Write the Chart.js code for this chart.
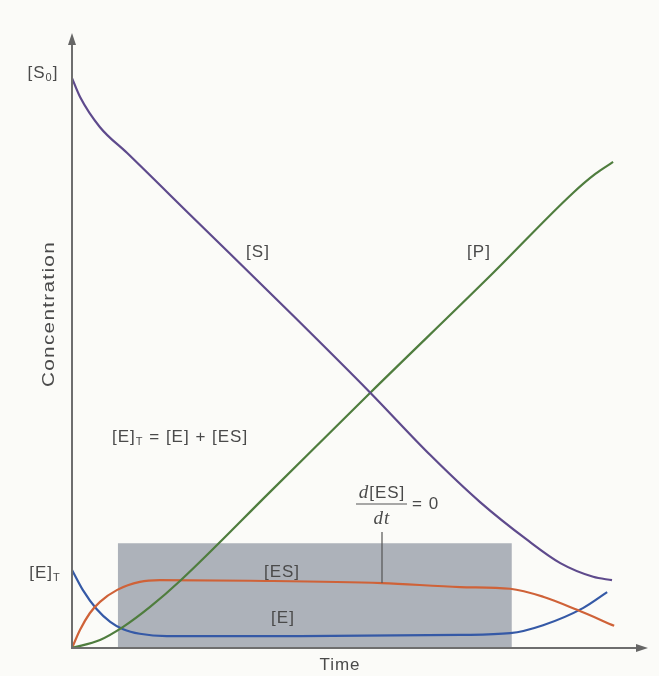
<!DOCTYPE html>
<html lang="en">
<head>
<meta charset="UTF-8">
<title>Enzyme kinetics</title>
<script src="https://cdn.jsdelivr.net/npm/chart.js"></script>
<style>
  body { margin: 0; background: #fbfbf8; }
  canvas { display: block; }
</style>
</head>
<body>
<canvas id="myChart" width="659" height="676"></canvas>
<script>
// values; time and concentration in arbitrary units
const sTime  = [0, 1.5, 5.2, 10.2, 22.5, 41.1, 55.4, 66.5, 75.8, 84.5, 90.7, 96.8, 100.3];
const sConc  = [100, 96.7, 91.4, 86.9, 75.5, 58.3, 44.8, 33.9, 25.6, 19.0, 14.9, 12.5, 11.9];
const pTime  = [0, 5.2, 9.5, 14.5, 20.1, 36.8, 55.4, 78.2, 93.1, 97.2, 100.5];
const pConc  = [0, 1.4, 3.7, 7.2, 11.8, 27.4, 44.8, 65.8, 79.9, 83.2, 85.3];
const esTime = [0, 1.5, 3.3, 5.2, 8.4, 12.6, 16.3, 33.1, 57.6, 72.1, 81.4, 87.5, 93.8, 100.7];
const esConc = [0, 3.2, 6.1, 8.1, 10.2, 11.6, 11.9, 11.8, 11.4, 10.7, 10.4, 9.0, 6.7, 3.9];
const eTime  = [0, 2.0, 4.6, 7.1, 9.5, 12.6, 17.6, 42.4, 72.1, 81.4, 87.5, 94.9, 99.4];
const eConc  = [13.7, 10.2, 6.8, 4.6, 3.3, 2.5, 2.1, 2.1, 2.3, 2.6, 4.0, 7.0, 9.8];
// steady state window (grey box)
const ssTime  = [8.5, 81.7];
const ssLevel = [18.4, 18.4];

function pts(xs, ys) {
    return xs.map((x, i) => ({ x: x, y: ys[i] }));
}

const TEXT = '#4a4a4a';
const SANS = '"Liberation Sans", Arial, sans-serif';
const SERIF = '"Liberation Serif", "Times New Roman", serif';

// draws a run of [text, font, dy] pieces, centred on x unless align is 'left'
function rich(ctx, parts, x, y, align) {
    let w = 0;
    parts.forEach(p => { ctx.font = p[1]; w += ctx.measureText(p[0]).width; });
    let cx = align === 'left' ? x : x - w / 2;
    parts.forEach(p => {
        ctx.font = p[1];
        ctx.fillText(p[0], cx, y + (p[2] || 0));
        cx += ctx.measureText(p[0]).width;
    });
}

const labels = {
    id: 'labels',
    afterDraw(chart) {
        const ctx = chart.ctx;
        const a = chart.chartArea;
        const main = '17px ' + SANS;
        const sub = '11px ' + SANS;
        const it = 'italic 19px ' + SERIF;
        ctx.save();
        ctx.fillStyle = '#666';
        // arrow heads
        ctx.beginPath();
        ctx.moveTo(a.left, a.top - 7);
        ctx.lineTo(a.left - 4, a.top + 5);
        ctx.lineTo(a.left + 4, a.top + 5);
        ctx.closePath();
        ctx.fill();
        ctx.beginPath();
        ctx.moveTo(a.right + 8, a.bottom);
        ctx.lineTo(a.right - 4, a.bottom - 4);
        ctx.lineTo(a.right - 4, a.bottom + 4);
        ctx.closePath();
        ctx.fill();

        ctx.fillStyle = TEXT;
        ctx.textBaseline = 'middle';
        ctx.textAlign = 'left';
        if ('letterSpacing' in ctx) ctx.letterSpacing = '1px';

        rich(ctx, [['[S', main], ['0', sub, 5], [']', main]], 43, 73);
        rich(ctx, [['[E]', main], ['T', sub, 5]], 45, 573);
        rich(ctx, [['[S]', main]], 258, 252);
        rich(ctx, [['[P]', main]], 479, 252);
        rich(ctx, [['[ES]', main]], 282, 572);
        rich(ctx, [['[E]', main]], 283, 618);
        rich(ctx, [['[E]', main], ['T', sub, 5], [' = [E] + [ES]', main]], 112, 437, 'left');

        // d[ES]/dt = 0
        rich(ctx, [['d', it], ['[ES]', main]], 382, 493);
        rich(ctx, [['dt', it]], 382, 519);
        rich(ctx, [['= 0', main]], 412, 504, 'left');
        ctx.strokeStyle = '#555';
        ctx.lineWidth = 1.2;
        ctx.beginPath();
        ctx.moveTo(356, 504);
        ctx.lineTo(407, 504);
        ctx.moveTo(382, 532);
        ctx.lineTo(382, 583);
        ctx.stroke();

        // axis titles
        rich(ctx, [['Time', main]], 340, 665);
        ctx.font = '16px ' + SANS;
        const w = ctx.measureText('Concentration').width;
        ctx.translate(50, 314);
        ctx.rotate(-Math.PI / 2);
        ctx.scale(146 / w, 1);
        ctx.textAlign = 'center';
        ctx.fillText('Concentration', 0, 0);
        ctx.restore();
    }
};

const line = (label, data, color) => ({
    label: label,
    data: data,
    borderColor: color,
    borderWidth: 2.2,
    pointRadius: 0,
    fill: false,
    cubicInterpolationMode: 'monotone',
    order: 1
});

const ctx = document.getElementById('myChart').getContext('2d');
const myChart = new Chart(ctx, {
    type: 'line',
    data: {
        datasets: [
            line('[S]', pts(sTime, sConc), '#5e4a8c'),
            line('[P]', pts(pTime, pConc), '#4f7d3e'),
            line('[ES]', pts(esTime, esConc), '#cf6238'),
            line('[E]', pts(eTime, eConc), '#3559a6'),
            {
                label: 'steady state',
                data: pts(ssTime, ssLevel),
                borderWidth: 0,
                pointRadius: 0,
                backgroundColor: '#adb2ba',
                fill: 'origin',
                tension: 0,
                order: 10
            }
        ]
    },
    options: {
        responsive: false,
        animation: false,
        layout: { padding: { left: 64, right: 19, top: 40, bottom: 20 } },
        plugins: {
            legend: { display: false },
            tooltip: { enabled: false }
        },
        scales: {
            x: {
                type: 'linear',
                min: 0,
                max: 105.5,
                grid: { display: false },
                ticks: { display: false },
                border: { display: true, color: '#6e6e6e', width: 2, z: 1 }
            },
            y: {
                min: 0,
                max: 106.7,
                grid: { display: false },
                ticks: { display: false },
                border: { display: true, color: '#6e6e6e', width: 2, z: 1 }
            }
        }
    },
    plugins: [labels]
});
</script>
</body>
</html>
